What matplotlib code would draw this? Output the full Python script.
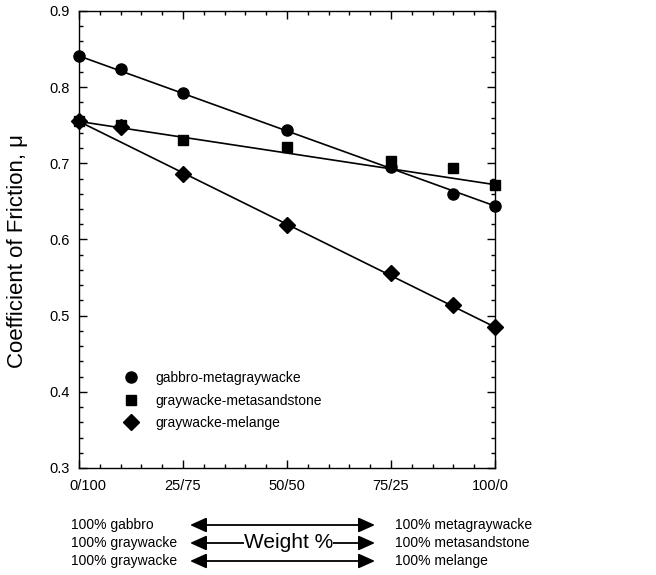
import numpy as np
import matplotlib
matplotlib.use("Agg")
import matplotlib.pyplot as plt
import matplotlib.transforms as mtransforms
from matplotlib.patches import FancyArrowPatch
from matplotlib.ticker import MultipleLocator

plt.rcParams['font.family'] = ['Liberation Sans', 'DejaVu Sans']

# Datos
weight = [0, 10, 25, 50, 75, 90, 100]
gabbro = [0.841, 0.824, 0.792, 0.744, 0.695, 0.660, 0.644]
metasand = [0.755, 0.750, 0.731, 0.721, 0.703, 0.694, 0.672]
melange = [0.755, 0.748, 0.686, 0.619, 0.556, 0.514, 0.485]

series_names = ['gabbro-metagraywacke', 'graywacke-metasandstone', 'graywacke-melange']
xtick_pos = [0, 25, 50, 75, 100]
xtick_labels = ['0/100', '25/75', '50/50', '75/25', '100/0']
left_labels = ['100% gabbro', '100% graywacke', '100% graywacke']
right_labels = ['100% metagraywacke', '100% metasandstone', '100% melange']

W, H = 656, 575
fig = plt.figure(figsize=(W/100, H/100), dpi=100)
ax = fig.add_axes([79/W, 1-468/H, 416/W, 457/H])

markers = ['o', 's', 'D']
sizes = [8, 7.5, 8.5]
handles = []
for ys, m, ms, name in zip([gabbro, metasand, melange], markers, sizes, series_names):
    # recta entre el primer y el ultimo punto
    ax.plot([weight[0], weight[-1]], [ys[0], ys[-1]], color='black', lw=1.2, zorder=2)
    h, = ax.plot(weight, ys, ls='none', marker=m, ms=ms, color='black', zorder=3,
                 clip_on=False, label=name)
    handles.append(h)

ax.set_xlim(0, 100)
ax.set_ylim(0.3, 0.9)
ax.set_xticks(xtick_pos)
ax.set_xticklabels(xtick_labels)
ax.xaxis.set_minor_locator(MultipleLocator(5))
ax.yaxis.set_major_locator(MultipleLocator(0.1))
ax.yaxis.set_minor_locator(MultipleLocator(0.02))
ax.tick_params(which='both', direction='in', top=True, right=True, labelsize=10.5)
ax.tick_params(which='major', length=6, width=1)
ax.tick_params(which='minor', length=3, width=1)
ax.tick_params(axis='x', pad=8)
ax.tick_params(axis='y', pad=7)
for sp in ax.spines.values():
    sp.set_linewidth(1.0)

# desplazar las etiquetas extremas del eje x
tl = ax.get_xticklabels()
tl[0].set_transform(tl[0].get_transform() + mtransforms.ScaledTranslation(9/100, 0, fig.dpi_scale_trans))
tl[-1].set_transform(tl[-1].get_transform() + mtransforms.ScaledTranslation(-5/100, 0, fig.dpi_scale_trans))

ylab = ax.set_ylabel('Coefficient of Friction, \u03bc', fontsize=16)
ylab.set_va('center')
ax.yaxis.set_label_coords((18-79)/416, 0.474)

fig.legend(handles=handles, loc='upper left', bbox_to_anchor=(123/W, 1-371/H),
           frameon=False, fontsize=10, handletextpad=1.1, labelspacing=0.62,
           handlelength=1.2, borderpad=0, borderaxespad=0)

# textos de composicion bajo el eje
rows_y = [525, 543, 561]
for yy, lt, rt in zip(rows_y, left_labels, right_labels):
    fy = 1 - yy/H
    fig.text(71/W, fy, lt, fontsize=10, va='center', ha='left')
    fig.text(395/W, fy, rt, fontsize=10, va='center', ha='left')
    fig.patches.append(FancyArrowPatch(
        (190/W, fy), (375/W, fy), transform=fig.transFigure,
        arrowstyle='<|-|>,head_length=1.0,head_width=0.45', mutation_scale=10,
        color='black', lw=1.3, shrinkA=0, shrinkB=0))
fig.text(288.5/W, 1 - 543/H, 'Weight %', fontsize=15, va='center', ha='center',
         bbox=dict(facecolor='white', edgecolor='none', pad=0), zorder=5)

fig.savefig('out.png', dpi=100)
